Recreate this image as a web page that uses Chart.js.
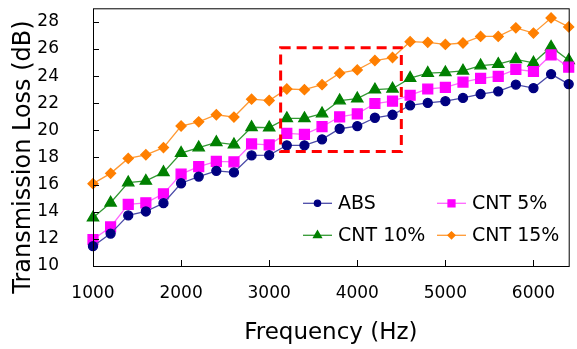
<!DOCTYPE html>
<html>
<head>
<meta charset="utf-8">
<script src="https://cdn.jsdelivr.net/npm/chart.js@4.4.1/dist/chart.umd.min.js"></script>
<style>
  html, body { margin: 0; padding: 0; background: #fff; }
  #wrap { width: 577px; height: 349px; }
</style>
</head>
<body>
<div id="wrap"><canvas id="tl"></canvas></div>
<script>
// Transmission loss vs frequency, four materials
const FREQ = [1000, 1200, 1400, 1600, 1800, 2000, 2200, 2400, 2600, 2800, 3000, 3200, 3400, 3600,
  3800, 4000, 4200, 4400, 4600, 4800, 5000, 5200, 5400, 5600, 5800, 6000, 6200, 6400];
const ABS = [11.46, 12.39, 13.73, 14.02, 14.63, 16.10, 16.59, 17.02, 16.90, 18.15, 18.17, 18.90, 18.90, 19.34,
  20.12, 20.32, 20.93, 21.15, 21.85, 22.02, 22.15, 22.39, 22.68, 22.88, 23.37, 23.12, 24.15, 23.41];
const CNT5 = [11.95, 12.88, 14.54, 14.66, 15.32, 16.78, 17.32, 17.71, 17.68, 19.00, 18.93, 19.78, 19.71, 20.27,
  21.00, 21.22, 21.98, 22.15, 22.59, 23.05, 23.17, 23.56, 23.83, 23.98, 24.49, 24.34, 25.56, 24.66];
const CNT10 = [13.56, 14.66, 16.15, 16.27, 16.90, 18.32, 18.73, 19.12, 18.95, 20.23, 20.20, 20.88, 20.88, 21.24,
  22.20, 22.34, 23.00, 23.07, 23.85, 24.22, 24.27, 24.39, 24.78, 24.88, 25.24, 24.98, 26.15, 25.17];
const CNT15 = [16.07, 16.83, 17.93, 18.20, 18.73, 20.32, 20.63, 21.15, 20.98, 22.30, 22.20, 23.05, 23.00, 23.37,
  24.22, 24.46, 25.15, 25.37, 26.54, 26.49, 26.34, 26.44, 26.93, 26.93, 27.56, 27.17, 28.29, 27.63];
const X_TICKS = [1000, 2000, 3000, 4000, 5000, 6000];
const Y_TICKS = [10, 12, 14, 16, 18, 20, 22, 24, 26, 28];
// highlighted region (Hz, dB)
const BOX_X = [3130, 4500];
const BOX_Y = [18.45, 26.1];

const FONT = '"DejaVu Sans", Verdana, sans-serif';
const Y_TITLE = 'Transmission Loss (dB)';

function series(label, vals, line, fill, style, r) {
  return {
    label: label,
    data: FREQ.map((f, i) => ({ x: f, y: vals[i] })),
    borderColor: line,
    borderWidth: 1.3,
    backgroundColor: fill,
    pointBackgroundColor: fill,
    pointBorderColor: fill,
    pointStyle: style,
    pointRadius: r,
    pointHoverRadius: r,
    tension: 0,
    clip: false,
  };
}

// frame, inward ticks, dashed box, y title and in-plot legend
const decor = {
  id: 'decor',
  afterDraw(chart) {
    const { ctx, chartArea: a, scales } = chart;
    const x = scales.x, y = scales.y;
    ctx.save();
    ctx.strokeStyle = '#000';
    ctx.lineWidth = 1;
    ctx.strokeRect(a.left + 0.5, a.top + 0.5, a.right - a.left, a.bottom - a.top);
    ctx.beginPath();
    X_TICKS.forEach(v => {
      const px = Math.round(x.getPixelForValue(v)) + 0.5;
      ctx.moveTo(px, a.bottom); ctx.lineTo(px, a.bottom - 6);
    });
    Y_TICKS.forEach(v => {
      const py = Math.round(y.getPixelForValue(v)) + 0.5;
      ctx.moveTo(a.left, py); ctx.lineTo(a.left + 6, py);
    });
    ctx.stroke();

    ctx.strokeStyle = '#ff0000';
    ctx.lineWidth = 3;
    ctx.setLineDash([10, 6]);
    const x0 = x.getPixelForValue(BOX_X[0]), x1 = x.getPixelForValue(BOX_X[1]);
    const y0 = y.getPixelForValue(BOX_Y[1]), y1 = y.getPixelForValue(BOX_Y[0]);
    ctx.strokeRect(x0, y0, x1 - x0, y1 - y0);
    ctx.setLineDash([]);

    // y title sits a bit below the plot centre in the original
    ctx.save();
    ctx.translate(24, 157);
    ctx.rotate(-Math.PI / 2);
    ctx.fillStyle = '#000';
    ctx.font = '24px ' + FONT;
    ctx.textAlign = 'center';
    ctx.textBaseline = 'middle';
    ctx.fillText(Y_TITLE, 0, 0);
    ctx.restore();

    // legend, 2 x 2
    const cols = [a.left + 210, a.left + 344];
    const rows = [a.top + 195, a.top + 227];
    chart.data.datasets.forEach((ds, i) => {
      const lx = cols[i % 2], ly = rows[Math.floor(i / 2)];
      ctx.strokeStyle = ds.borderColor;
      ctx.lineWidth = 1.3;
      ctx.beginPath();
      ctx.moveTo(lx, ly); ctx.lineTo(lx + 29, ly);
      ctx.stroke();
      ctx.fillStyle = ds.pointBackgroundColor;
      ctx.strokeStyle = ds.pointBorderColor;
      Chart.helpers.drawPoint(ctx, {
        pointStyle: ds.pointStyle, radius: ds.pointRadius * 0.7, borderWidth: 1, rotation: 0
      }, lx + 14.5, ly);
      ctx.fillStyle = '#000';
      ctx.font = '19px ' + FONT;
      ctx.textBaseline = 'middle';
      ctx.textAlign = 'left';
      ctx.fillText(ds.label, lx + 35, ly + 1);
    });
    ctx.restore();
  }
};

new Chart(document.getElementById('tl'), {
  type: 'line',
  data: {
    datasets: [
      series('ABS', ABS, '#4a4aa8', '#000080', 'circle', 4.5),
      series('CNT 5%', CNT5, '#ff66ff', '#ff00ff', 'rect', 7),
      series('CNT 10%', CNT10, '#339933', '#008000', 'triangle', 6.5),
      series('CNT 15%', CNT15, '#ff9933', '#ff7f00', 'rectRot', 5),
    ],
  },
  options: {
    responsive: true,
    maintainAspectRatio: false,
    animation: false,
    events: [],
    layout: { padding: { left: 0, top: 6, right: 7, bottom: 0 } },
    plugins: { legend: { display: false }, tooltip: { enabled: false } },
    scales: {
      x: {
        type: 'linear',
        min: 1000,
        max: 6400,
        afterBuildTicks: s => { s.ticks = X_TICKS.map(v => ({ value: v })); },
        afterFit: s => { s.height = 83; s.paddingLeft = 0; s.paddingRight = 0; },
        grid: { display: false },
        border: { display: false },
        ticks: {
          color: '#000', padding: 9, maxRotation: 0,
          font: { family: FONT, size: 17 },
          callback: v => String(v),
        },
        title: {
          display: true,
          text: 'Frequency (Hz)',
          color: '#000',
          padding: { top: 0, bottom: 2 },
          font: { family: FONT, size: 23 },
        },
      },
      y: {
        min: 10,
        max: 29,
        afterBuildTicks: s => { s.ticks = Y_TICKS.map(v => ({ value: v })); },
        afterFit: s => { s.width = 93; s.paddingTop = 0; s.paddingBottom = 0; },
        grid: { display: false },
        border: { display: false },
        ticks: { color: '#000', padding: 26, font: { family: FONT, size: 17 } },
      },
    },
  },
  plugins: [decor],
});
</script>
</body>
</html>
